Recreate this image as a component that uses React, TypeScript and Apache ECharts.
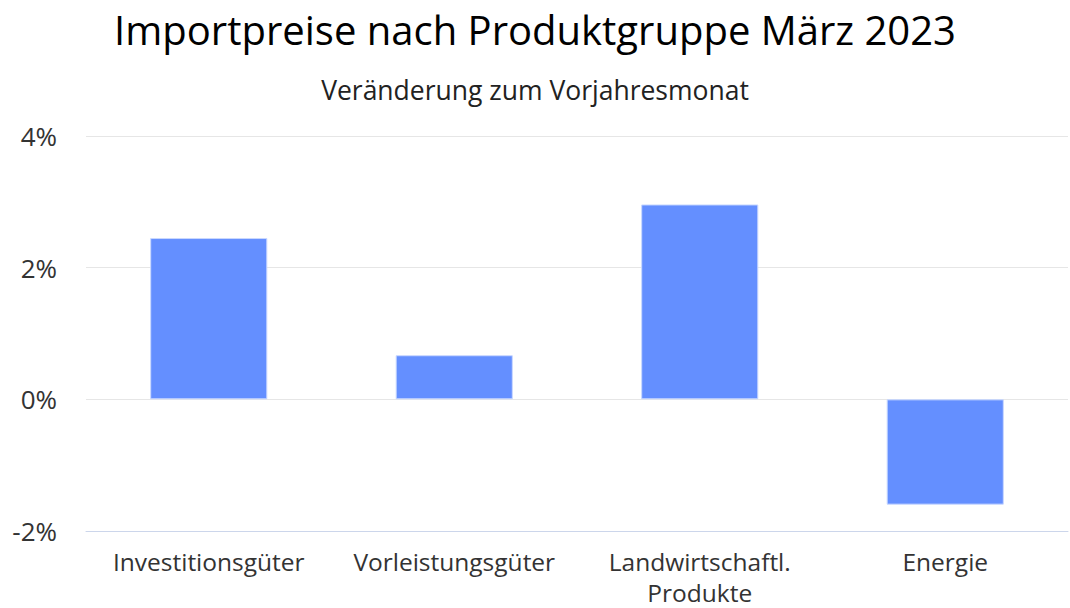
import React, { useEffect, useRef } from "react";
import * as echarts from "echarts";

const titleText = "Importpreise nach Produktgruppe März 2023";
const subtitleText = "Veränderung zum Vorjahresmonat";
const categories = ["Investitionsgüter", "Vorleistungsgüter", "Landwirtschaftl.\nProdukte", "Energie"];
const values = [2.45, 0.67, 2.96, -1.6];
const yTicks = { min: -2, max: 4, interval: 2 };

const FONT = "Open Sans";

export default function App() {
  const ref = useRef<HTMLDivElement>(null);
  useEffect(() => {
    const chart = echarts.init(ref.current!, null, { renderer: "svg" });
    chart.setOption({
      animation: false,
      textStyle: { fontFamily: FONT },
      title: [
        {
          text: titleText,
          left: "center",
          top: 4,
          textStyle: { fontFamily: FONT, fontSize: 40, fontWeight: "normal", color: "#000" },
        },
        {
          text: subtitleText,
          left: "center",
          top: 71,
          textStyle: { fontFamily: FONT, fontSize: 26.5, fontWeight: "normal", color: "#222" },
        },
      ],
      grid: { left: 86, right: 2, top: 136, bottom: 75, containLabel: false },
      xAxis: {
        type: "category",
        data: categories,
        axisLine: { show: true, onZero: false, lineStyle: { color: "#ccd6eb", width: 1 } },
        axisTick: { show: false },
        axisLabel: { fontFamily: FONT, fontSize: 24.5, color: "#333", margin: 15, lineHeight: 31, interval: 0 },
      },
      yAxis: {
        type: "value",
        min: yTicks.min,
        max: yTicks.max,
        interval: yTicks.interval,
        axisLabel: { formatter: "{value}%", fontFamily: FONT, fontSize: 26, color: "#333", margin: 29 },
        splitLine: { lineStyle: { color: "#e6e6e6", width: 1 } },
        axisLine: { show: false },
        axisTick: { show: false },
      },
      series: [
        {
          type: "bar",
          data: values,
          barWidth: "47.7%",
          itemStyle: { color: "#648fff", borderColor: "#c9d8ff", borderWidth: 1 },
        },
      ],
    });
    return () => chart.dispose();
  }, []);
  return <div ref={ref} style={{ position: "fixed", left: 0, top: 0, width: 1070, height: 608, background: "#fff" }} />;
}
